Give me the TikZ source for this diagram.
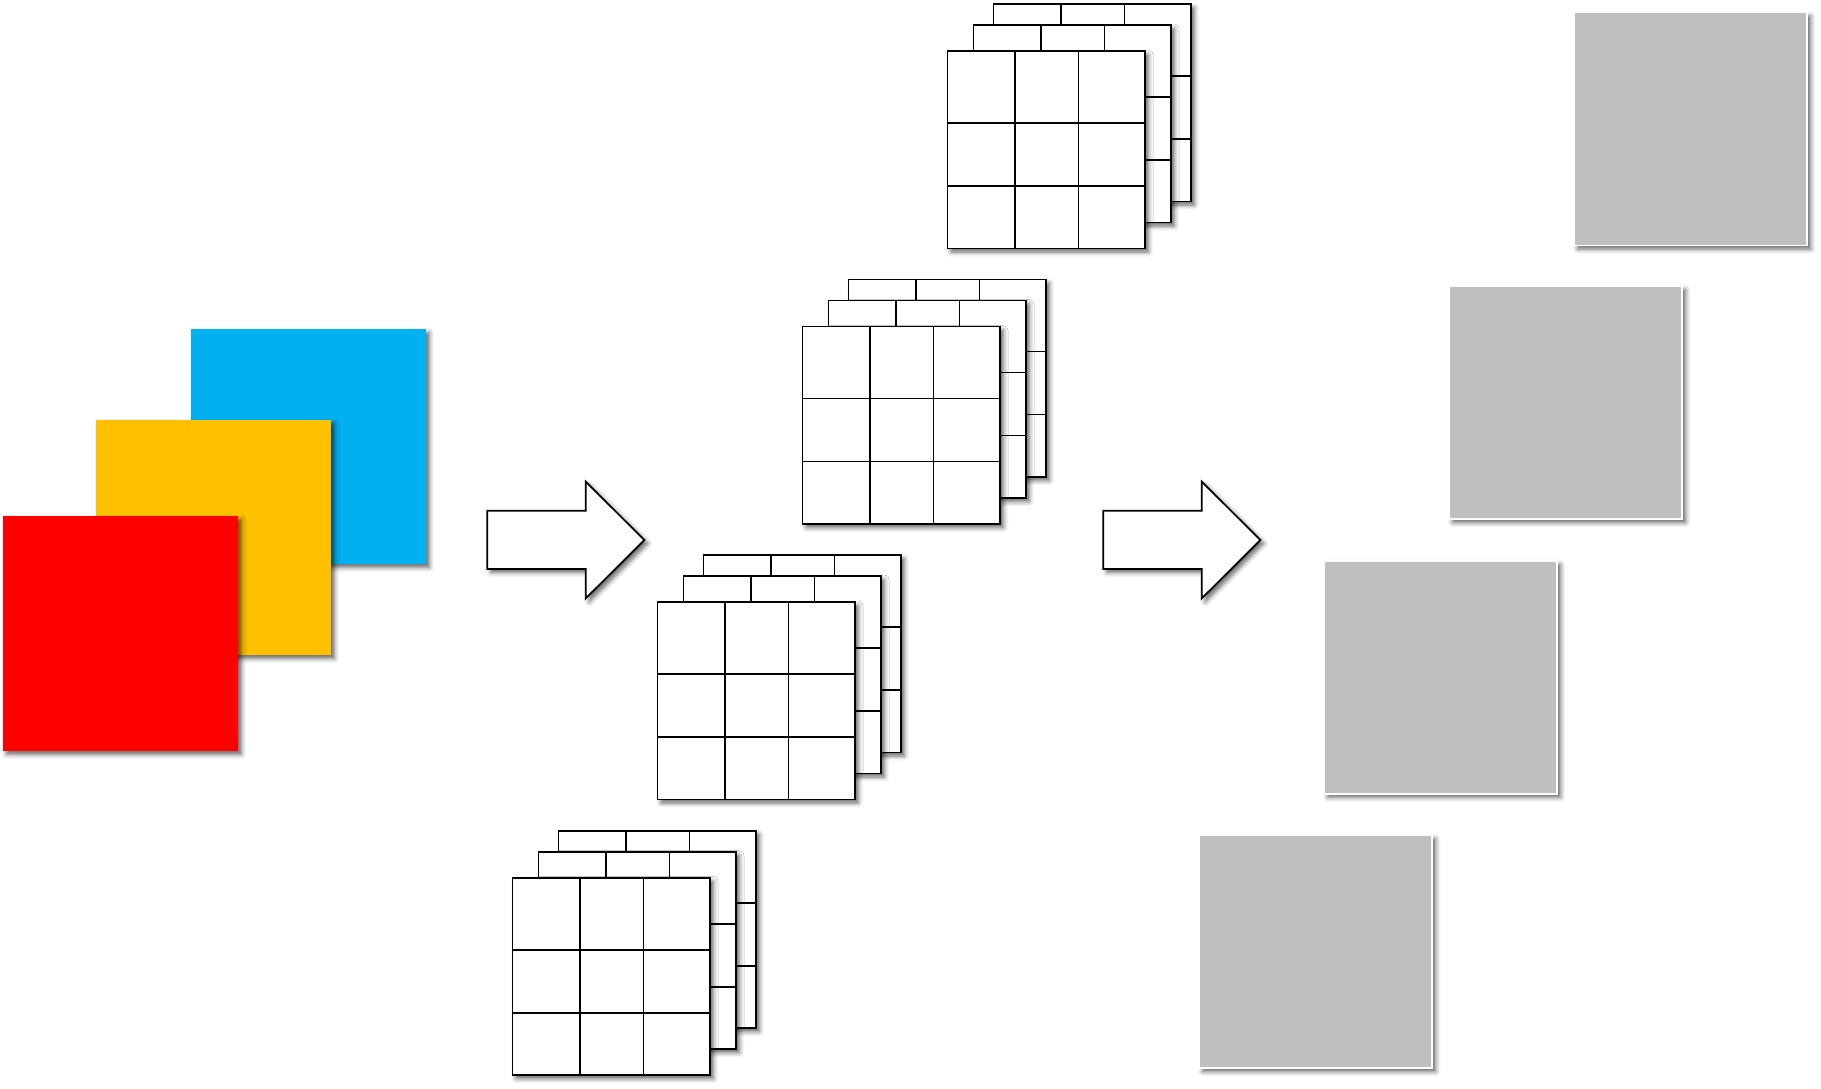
\documentclass[tikz,border=0pt]{standalone}
\usetikzlibrary{shadows.blur}
\definecolor{cblue}{HTML}{00B0F0}
\definecolor{cyellow}{HTML}{FFC000}
\definecolor{cred}{HTML}{FF0000}
\definecolor{cgray}{HTML}{BFBFBF}
\tikzset{
 shd/.style={blur shadow={shadow xshift=1.4pt, shadow yshift=-1.4pt, shadow blur radius=1.8pt, shadow opacity=60}},
 colsq/.style={rectangle, inner sep=0pt, outer sep=0pt, minimum size=94pt, anchor=north west, shd},
 graysq/.style={rectangle, inner sep=0pt, outer sep=0pt, minimum size=93.3pt, anchor=north west, fill=cgray, draw=white, line width=0.7pt, shd},
 sheet/.style={rectangle, inner sep=0pt, outer sep=0pt, minimum size=79pt, anchor=north west, fill=white, draw=black, line width=0.7pt, shd},
 gridline/.style={draw=black, line width=0.7pt},
 blockarrow/.style={fill=white, draw=black, line width=0.7pt, line join=miter, shd},
}
\newcommand\gridsheet[3]{%
 \node[sheet] (#1) at (#2,#3) {};
 \draw[gridline] ([xshift=27pt]#1.north west) -- ([xshift=27pt]#1.south west);
 \draw[gridline] ([xshift=52.4pt]#1.north west) -- ([xshift=52.4pt]#1.south west);
 \draw[gridline] ([yshift=-28.8pt]#1.north west) -- ([yshift=-28.8pt]#1.north east);
 \draw[gridline] ([yshift=-54pt]#1.north west) -- ([yshift=-54pt]#1.north east);
}
\newcommand\gridstack[3]{%
 \gridsheet{#1c}{#2+46}{#3-47}
 \gridsheet{#1b}{#2+26}{#3-26}
 \gridsheet{#1a}{#2}{#3}
}
\newcommand\blockarr[1]{%
 \draw[blockarrow] (#1,510.7) -- ++(98.4,0) -- ++(0,-29.2) -- ++(58.6,58.5) -- ++(-58.6,58.5) -- ++(0,-29.5) -- ++(-98.4,0) -- cycle;
}
\begin{document}
\begin{tikzpicture}[x=0.4pt,y=-0.4pt]
\useasboundingbox (0,0) rectangle (1821,1088);
% input colour planes
\node[colsq, fill=cblue] (blue) at (191,329) {};
\node[colsq, fill=cyellow] (yellow) at (96,420) {};
\node[colsq, fill=cred] (red) at (3,516) {};
% arrows
\blockarr{487.3}
\blockarr{1103.3}
% kernel stacks
\gridstack{k1}{947.5}{51}
\gridstack{k2}{802.5}{326.6}
\gridstack{k3}{657.5}{602}
\gridstack{k4}{512.5}{877.7}
% output feature maps
\node[graysq] (g1) at (1574,12.3) {};
\node[graysq] (g2) at (1449,286) {};
\node[graysq] (g3) at (1324,560.7) {};
\node[graysq] (g4) at (1199,835) {};
\end{tikzpicture}
\end{document}
